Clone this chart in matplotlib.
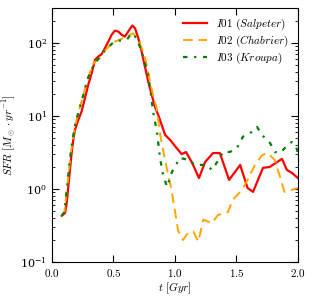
import numpy as np
import matplotlib
matplotlib.use('Agg')
import matplotlib.pyplot as plt
from matplotlib.ticker import FuncFormatter

plt.rcParams['mathtext.fontset'] = 'cm'
plt.rcParams['font.family'] = 'serif'
plt.rcParams['font.serif'] = ['DejaVu Serif']

# I01 (Salpeter)
t_sal = [0.08, 0.106, 0.12, 0.133, 0.146, 0.16, 0.173, 0.187, 0.214, 0.241, 0.268, 0.295,
         0.323, 0.35, 0.376, 0.404, 0.431, 0.458, 0.485, 0.512, 0.539, 0.567, 0.593, 0.62,
         0.653, 0.675, 0.702, 0.729, 0.756, 0.783, 0.811, 0.837, 0.864, 0.92, 0.96, 1.015,
         1.055, 1.09, 1.14, 1.195, 1.245, 1.31, 1.365, 1.44, 1.53, 1.59, 1.635, 1.715,
         1.77, 1.87, 1.91, 1.95, 2.0]
sfr_sal = [0.43, 0.465, 0.64, 1.07, 1.82, 3.1, 4.7, 6.4, 8.8, 11.5, 17.5, 26.6,
           38.5, 58.5, 65, 70, 85, 104, 129, 147, 143, 129, 122, 143,
           173, 159, 116, 76, 47, 29.5, 19.4, 13.4, 10.3, 5.5, 4.7, 3.6,
           3.0, 3.2, 2.27, 1.41, 2.34, 3.1, 3.1, 1.33, 2.13, 1.03, 0.91, 1.94,
           2.0, 2.58, 1.82, 1.66, 1.41]

# I02 (Chabrier)
t_cha = [0.08, 0.1, 0.112, 0.125, 0.14, 0.155, 0.17, 0.19, 0.22, 0.25, 0.28, 0.31, 0.34,
         0.39, 0.43, 0.47, 0.512, 0.58, 0.62, 0.66, 0.70, 0.742, 0.77, 0.797, 0.824,
         0.851, 0.88, 0.91, 0.94, 0.97, 1.0, 1.025, 1.065, 1.106, 1.15, 1.19, 1.23,
         1.3, 1.35, 1.43, 1.47, 1.545, 1.59, 1.65, 1.71, 1.755, 1.81, 1.85, 1.89,
         1.95, 2.0]
sfr_cha = [0.43, 0.47, 0.7, 1.1, 1.9, 3.2, 4.8, 7.5, 12, 18, 28, 40, 53,
           62, 78, 92, 104, 116, 125, 135, 110, 76, 50, 29.5, 18.4,
           12.9, 5.5, 3.0, 1.7, 1.0, 0.5, 0.27, 0.20, 0.25, 0.26, 0.19, 0.38,
           0.34, 0.44, 0.48, 0.71, 0.97, 1.33, 2.13, 2.92, 3.1, 2.5, 1.55, 0.91,
           0.97, 1.03]

# I03 (Kroupa)
t_kro = [0.08, 0.1, 0.112, 0.125, 0.14, 0.155, 0.17, 0.19, 0.22, 0.25, 0.28, 0.31, 0.35,
         0.431, 0.512, 0.607, 0.648, 0.689, 0.729, 0.783, 0.824, 0.855, 0.878, 0.90,
         0.935, 0.976, 1.04, 1.106, 1.163, 1.26, 1.30, 1.366, 1.39, 1.447, 1.504, 1.553,
         1.626, 1.667, 1.707, 1.772, 1.813, 1.854, 1.894, 1.95, 1.984, 2.0]
sfr_kro = [0.43, 0.48, 0.72, 1.15, 2.0, 3.4, 5.0, 7.8, 12, 18, 28, 40, 52.6,
           80, 106, 110, 135, 116, 76, 36.5, 11, 5.8, 2.7, 1.66,
           1.07, 1.71, 2.66, 2.5, 2.13, 2.13, 1.82, 2.66, 3.21, 3.21, 3.64, 5.2,
           6.04, 7.07, 5.5, 4.27, 3.21, 3.11, 3.64, 4.4, 3.76, 3.11]

fig = plt.figure(figsize=(3.13, 2.98), dpi=100)
ax = fig.add_axes([0.166, 0.121, 0.786, 0.852])

ax.plot(t_sal, sfr_sal, color='red', lw=1.6, label=r'$I01\ (Salpeter)$')
ax.plot(t_cha, sfr_cha, color='orange', lw=1.4, dashes=(5, 3), label=r'$I02\ (Chabrier)$')
ax.plot(t_kro, sfr_kro, color='green', lw=1.6, dashes=(2, 3, 1, 3), label=r'$I03\ (Kroupa)$')

ax.set_yscale('log')
ax.set_xlim(0, 2.0)
ax.set_ylim(0.1, 300)
ax.set_xticks([0.0, 0.5, 1.0, 1.5, 2.0])
ax.xaxis.set_major_formatter(FuncFormatter(lambda v, p: r'$%.1f$' % v))
ax.tick_params(which='both', direction='in', top=True, right=True, labelsize=8)
ax.tick_params(which='major', length=5)
ax.tick_params(which='minor', length=2.5)

ax.set_xlabel(r'$t\ [Gyr]$', fontsize=8, labelpad=1)
ax.set_ylabel(r'$SFR\ [M_\odot \cdot yr^{-1}]$', fontsize=8, labelpad=2)

ax.legend(loc='upper right', frameon=False, fontsize=8, handlelength=2.2,
          labelspacing=0.15, borderaxespad=0.4)

fig.savefig('out.png', dpi=100)
